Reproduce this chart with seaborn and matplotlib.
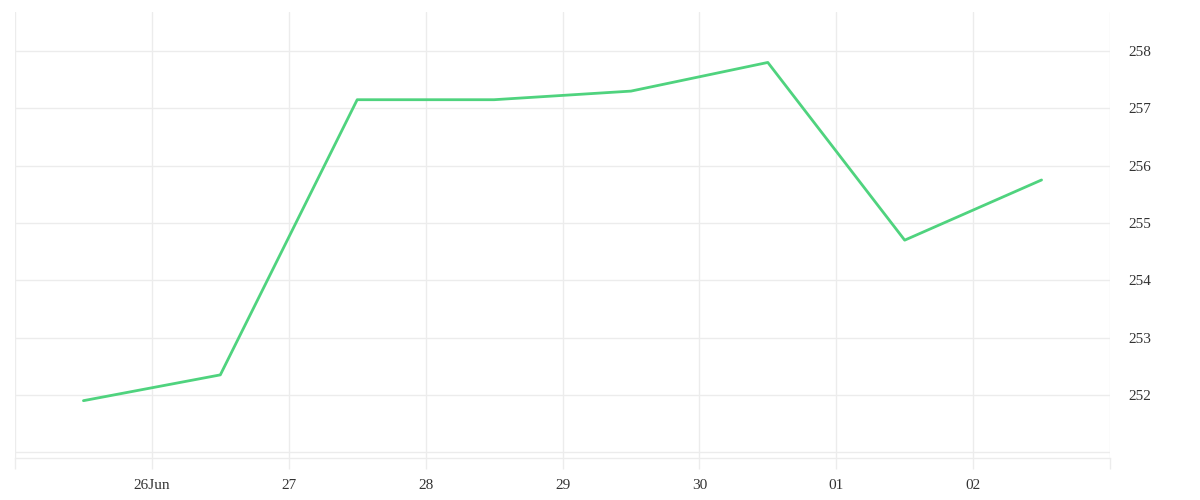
import matplotlib
matplotlib.use("Agg")
import matplotlib.pyplot as plt
import matplotlib.dates as mdates
import numpy as np
import pandas as pd
import seaborn as sns

# Daily closing values, plotted at noon of each day
dates = pd.date_range("2023-06-25 12:00", periods=8, freq="D")
values = [251.9, 252.35, 257.15, 257.15, 257.3, 257.8, 254.7, 255.75]
y_ticks = [251, 252, 253, 254, 255, 256, 257, 258]
y_labels = ["", "252", "253", "254", "255", "256", "257", "258"]
x_ticks = pd.date_range("2023-06-25", "2023-07-03", freq="D")
x_labels = ["", "26Jun", "27", "28", "29", "30", "01", "02", ""]

df = pd.DataFrame({"date": dates, "value": values})

sns.set_theme(style="white")
plt.rcParams["font.family"] = ["Liberation Serif", "DejaVu Serif"]

fig = plt.figure(figsize=(12, 5), dpi=100)
ax = fig.add_axes([15 / 1200, 42 / 500, 1095 / 1200, 446 / 500])

sns.lineplot(data=df, x="date", y="value", ax=ax, color="#4fd37e", linewidth=2.0)

ax.set_xlim(x_ticks[0], x_ticks[-1])
ax.set_ylim(250.9, 258.68)
ax.set_xticks(x_ticks)
ax.set_xticklabels(x_labels)
ax.set_yticks(y_ticks)
ax.set_yticklabels(y_labels)
ax.yaxis.tick_right()

ax.grid(True, color="#ececec", linewidth=1.0)
for side in ["top", "left", "right"]:
    ax.spines[side].set_visible(False)
ax.spines["bottom"].set_color("#ececec")
ax.spines["bottom"].set_linewidth(1.0)

ax.tick_params(axis="x", length=8, width=1.0, color="#ececec", pad=7,
               labelsize=11, labelcolor="#333333", bottom=True)
ax.tick_params(axis="y", length=0, pad=13, labelsize=11, labelcolor="#333333",
               right=False, left=False)
ax.set_xlabel("")
ax.set_ylabel("")

fig.savefig("out.png", dpi=100, facecolor="white")
